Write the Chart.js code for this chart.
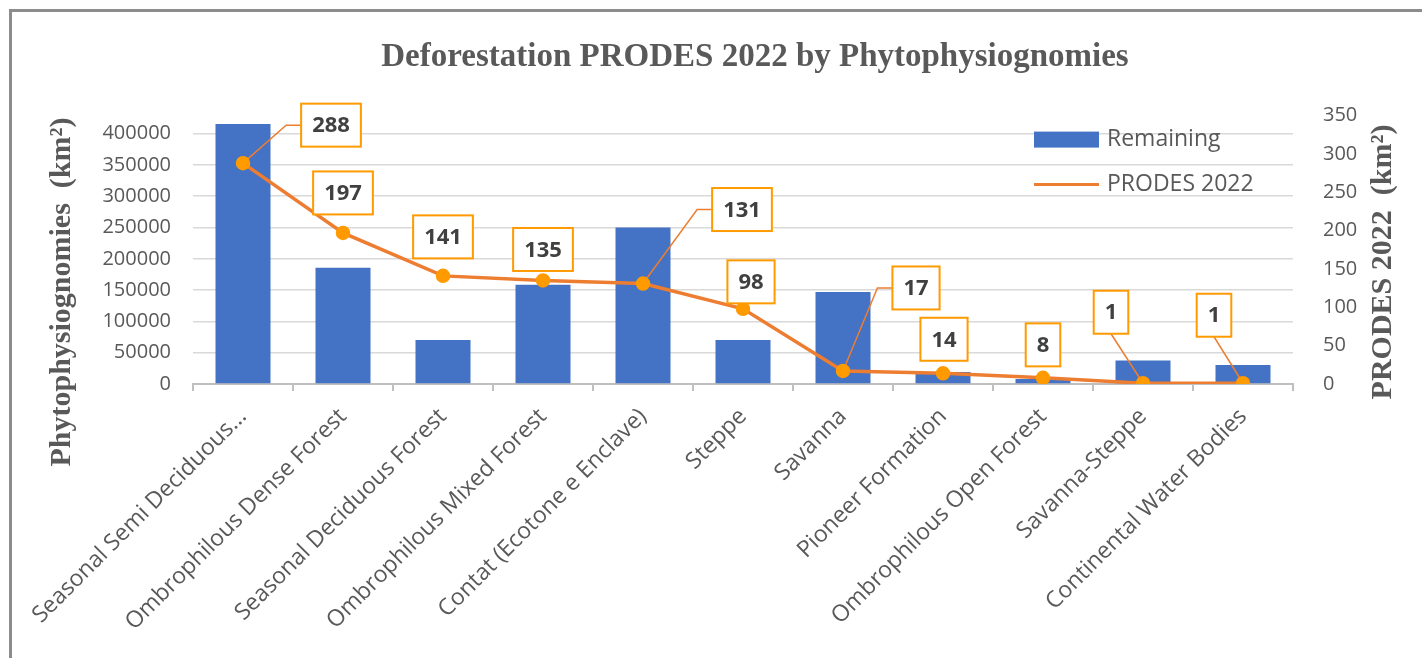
<!DOCTYPE html>
<html>
<head>
<meta charset="utf-8">
<title>Deforestation PRODES 2022 by Phytophysiognomies</title>
<script src="https://cdn.jsdelivr.net/npm/chart.js@4.4.1/dist/chart.umd.min.js"></script>
<style>
  html, body { margin: 0; padding: 0; background: #fff; overflow: hidden; }
  #frame {
    position: absolute; left: 9px; top: 9px; width: 1500px; height: 700px;
    border-left: 3px solid #8c8c8c; border-top: 3px solid #8c8c8c;
  }
  #chart { display: block; }
</style>
</head>
<body>
<div id="frame"><canvas id="chart" width="1486" height="646"></canvas></div>
<script>
  "use strict";

  const categories = [
    "Seasonal Semi Deciduous...",
    "Ombrophilous Dense Forest",
    "Seasonal Deciduous Forest",
    "Ombrophilous Mixed Forest",
    "Contat (Ecotone e Enclave)",
    "Steppe",
    "Savanna",
    "Pioneer Formation",
    "Ombrophilous Open Forest",
    "Savanna-Steppe",
    "Continental Water Bodies",
  ];
  const remaining = [415500, 185600, 70400, 158400, 250000, 70400, 147000, 19000, 8000, 37500, 30500];
  const prodes2022 = [288, 197, 141, 135, 131, 98, 17, 14, 8, 1, 1];
  const remainingTicks = [0, 50000, 100000, 150000, 200000, 250000, 300000, 350000, 400000];
  const prodesTicks = [0, 50, 100, 150, 200, 250, 300, 350];

  // where each value box sits relative to its point (px)
  const calloutOffsets = [
    [88, -38], [0, -40], [0, -39], [0, -31], [99, -74], [8, -27],
    [73, -83], [1, -34], [0, -33], [-32, -71], [-29, -68],
  ];

  const BLUE = "#4472C4";
  const ORANGE = "#ED7D31";
  const AMBER = "#FF9A00";
  const GREY = "#595959";
  const SANS = "'Open Sans', sans-serif";
  const SERIF = "'Liberation Serif', 'Times New Roman', serif";

  function boxFor(ctx, chart, i) {
    const pt = chart.getDatasetMeta(1).data[i];
    const text = String(prodes2022[i]);
    const [dx, dy] = calloutOffsets[i];
    const w = ctx.measureText(text).width + 22;
    const h = 43;
    const cx = pt.x + dx;
    const cy = pt.y + dy;
    return { pt, text, dx, w, h, cx, cy, left: cx - w / 2, top: cy - h / 2 };
  }

  const callouts = {
    id: "callouts",
    // leader lines go above the bars but under the line series
    afterDatasetDraw(chart, args) {
      if (args.index !== 0) return;
      const ctx = chart.ctx;
      ctx.save();
      ctx.font = "bold 22px " + SANS;
      ctx.strokeStyle = ORANGE;
      ctx.lineWidth = 1.5;
      prodes2022.forEach((v, i) => {
        const b = boxFor(ctx, chart, i);
        if (b.dx > b.w / 2) {
          ctx.beginPath();
          ctx.moveTo(b.pt.x, b.pt.y);
          ctx.lineTo(b.left - 15, b.cy);
          ctx.lineTo(b.left, b.cy);
          ctx.stroke();
        } else if (b.dx < -b.w / 2) {
          ctx.beginPath();
          ctx.moveTo(b.pt.x, b.pt.y);
          ctx.lineTo(b.cx, b.top + b.h);
          ctx.stroke();
        }
      });
      ctx.restore();
    },
    afterDatasetsDraw(chart) {
      const ctx = chart.ctx;
      ctx.save();
      ctx.font = "bold 22px " + SANS;
      ctx.textAlign = "center";
      ctx.textBaseline = "middle";
      prodes2022.forEach((v, i) => {
        const b = boxFor(ctx, chart, i);
        ctx.fillStyle = "#fff";
        ctx.fillRect(b.left, b.top, b.w, b.h);
        ctx.strokeStyle = AMBER;
        ctx.lineWidth = 2;
        ctx.strokeRect(b.left, b.top, b.w, b.h);
        ctx.fillStyle = "#404040";
        ctx.fillText(b.text, b.cx, b.cy + 1);
      });
      ctx.restore();
    },
  };

  // legend sits inside the plot area, top right
  const insideLegend = {
    id: "insideLegend",
    afterDraw(chart) {
      const ctx = chart.ctx;
      const area = chart.chartArea;
      const x = area.right - 259;
      const rows = [area.top + 24, area.top + 69];
      ctx.save();
      ctx.font = "23px " + SANS;
      ctx.textBaseline = "middle";
      chart.data.datasets.forEach((ds, i) => {
        const y = rows[i];
        if (ds.type === "line") {
          ctx.strokeStyle = ds.borderColor;
          ctx.lineWidth = 3;
          ctx.beginPath();
          ctx.moveTo(x, y);
          ctx.lineTo(x + 65, y);
          ctx.stroke();
        } else {
          ctx.fillStyle = ds.backgroundColor;
          ctx.fillRect(x, y - 8, 65, 16);
        }
        ctx.fillStyle = GREY;
        ctx.fillText(ds.label, x + 73, y);
      });
      ctx.restore();
    },
  };

  const axisTitles = {
    id: "axisTitles",
    afterDraw(chart) {
      const ctx = chart.ctx;
      ctx.save();
      ctx.font = "bold 30px " + SERIF;
      ctx.fillStyle = GREY;
      ctx.textAlign = "center";
      ctx.textBaseline = "middle";
      [[50, 280, "Phytophysiognomies  (km²)"], [1371, 250, "PRODES 2022  (km²)"]].forEach(([x, y, t]) => {
        ctx.save();
        ctx.translate(x, y);
        ctx.rotate(-Math.PI / 2);
        ctx.fillText(t, 0, 0);
        ctx.restore();
      });
      ctx.restore();
    },
  };

  Chart.defaults.font.family = SANS;
  Chart.defaults.color = GREY;

  new Chart(document.getElementById("chart"), {
    type: "bar",
    data: {
      labels: categories,
      datasets: [
        {
          type: "bar",
          label: "Remaining",
          data: remaining,
          backgroundColor: BLUE,
          yAxisID: "y",
          order: 1,
          barPercentage: 0.55,
          categoryPercentage: 1,
        },
        {
          type: "line",
          label: "PRODES 2022",
          data: prodes2022,
          borderColor: ORANGE,
          borderWidth: 3.5,
          pointRadius: 5.5,
          pointBackgroundColor: AMBER,
          pointBorderColor: AMBER,
          tension: 0,
          yAxisID: "y1",
          order: 0,
        },
      ],
    },
    options: {
      responsive: false,
      animation: false,
      layout: { padding: 0 },
      plugins: {
        legend: { display: false },
        tooltip: { enabled: false },
        title: {
          display: true,
          text: "Deforestation PRODES 2022 by Phytophysiognomies",
          color: GREY,
          font: { family: SERIF, size: 33, weight: "bold", lineHeight: 1.2 },
          padding: { top: 26, bottom: 38 },
        },
      },
      scales: {
        x: {
          grid: { drawOnChartArea: false, tickLength: 7, color: "#bfbfbf", lineWidth: 2 },
          border: { color: "#bfbfbf", width: 2 },
          ticks: { minRotation: 45, maxRotation: 45, autoSkip: false, padding: 12, font: { size: 23 }, color: GREY },
          afterFit: (s) => { s.height = 274; },
        },
        y: {
          position: "left",
          min: 0,
          max: 428800,
          afterBuildTicks: (s) => { s.ticks = remainingTicks.map((v) => ({ value: v })); },
          grid: { color: "#d9d9d9", lineWidth: 1.5, drawTicks: false },
          border: { display: false },
          ticks: { padding: 22, font: { size: 20 }, color: GREY, callback: (v) => String(v) },
          afterFit: (s) => { s.width = 181; },
        },
        y1: {
          position: "right",
          min: 0,
          max: 350,
          afterBuildTicks: (s) => { s.ticks = prodesTicks.map((v) => ({ value: v })); },
          grid: { display: false },
          border: { display: false },
          ticks: { padding: 22, font: { size: 20 }, color: GREY, callback: (v) => String(v) },
          afterFit: (s) => { s.width = 205; },
        },
      },
    },
    plugins: [callouts, insideLegend, axisTitles],
  });
</script>
</body>
</html>
